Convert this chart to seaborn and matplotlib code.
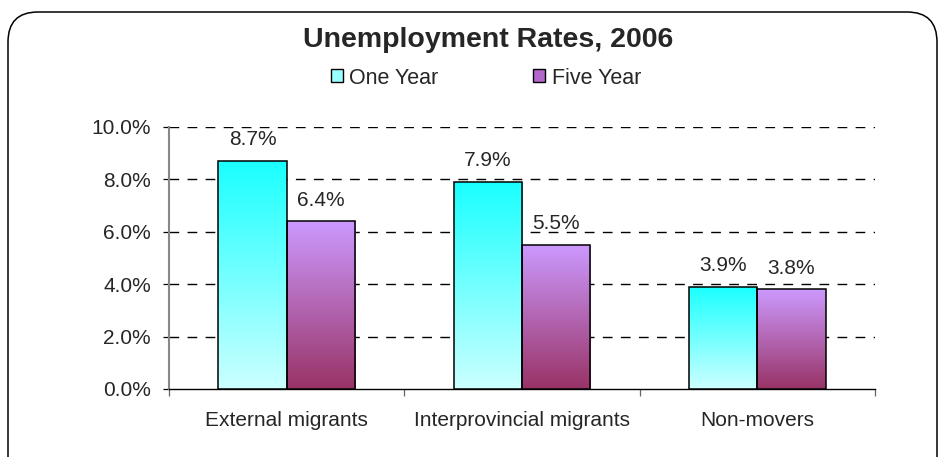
import numpy as np
import pandas as pd
import matplotlib
matplotlib.use("Agg")
import matplotlib.pyplot as plt
import seaborn as sns
from matplotlib.patches import FancyBboxPatch, Patch
from matplotlib.colors import LinearSegmentedColormap
from matplotlib.ticker import FuncFormatter

categories = ["External migrants", "Interprovincial migrants", "Non-movers"]
series = ["One Year", "Five Year"]
one_year = [8.7, 7.9, 3.9]
five_year = [6.4, 5.5, 3.8]

df = pd.DataFrame({
    "category": categories * 2,
    "series": [series[0]] * 3 + [series[1]] * 3,
    "value": one_year + five_year,
})

sns.set_style("white")
plt.rcParams["font.family"] = ["Liberation Sans", "DejaVu Sans"]

W, H = 942, 457
fig = plt.figure(figsize=(W / 100, H / 100), dpi=100)
ax = fig.add_axes([169 / W, 1 - 389 / H, (875 - 169) / W, (389 - 127) / H])

base_colors = {"One Year": "#1affff", "Five Year": "#cc99ff"}
sns.barplot(data=df, x="category", y="value", hue="series", order=categories,
            hue_order=series, palette=base_colors, width=0.58, ax=ax,
            edgecolor="black", linewidth=1.1, legend=False, zorder=3)

grads = {
    "One Year": LinearSegmentedColormap.from_list("c", ["#ccffff", "#1affff"]),
    "Five Year": LinearSegmentedColormap.from_list("p", ["#993366", "#cc99ff"]),
}
grad = np.linspace(0, 1, 256).reshape(-1, 1)
patches = list(ax.patches)
for i, p in enumerate(patches):
    s = series[i // 3]
    x0, y0 = p.get_x(), p.get_y()
    w, h = p.get_width(), p.get_height()
    im = ax.imshow(grad, cmap=grads[s], extent=[x0, x0 + w, y0, y0 + h],
                   origin="lower", aspect="auto", zorder=3.5)
    im.set_clip_path(p)
    p.set_facecolor("none")
    p.set_zorder(4)
    ax.text(x0 + w / 2, y0 + h + 0.6, f"{h:.1f}%", ha="center", va="baseline",
            fontsize=15, zorder=5)

ax.set_xlim(-0.5, 2.5)
ax.set_ylim(0, 10)
ax.set_yticks([0, 2, 4, 6, 8, 10])
ax.yaxis.set_major_formatter(FuncFormatter(lambda v, _: f"{v:.1f}%"))
ax.set_xlabel("")
ax.set_ylabel("")
for yv in [2, 4, 6, 8, 10]:
    ax.axhline(yv, color="black", lw=1.0, ls=(0, (7, 6)), zorder=1)

ax.set_xticks([0, 1, 2])
ax.set_xticklabels(categories)
ax.set_xticks([-0.5, 0.5, 1.5, 2.5], minor=True)
ax.tick_params(axis="x", which="major", length=0, pad=16, labelsize=15)
ax.tick_params(axis="x", which="minor", length=5, width=0.9, color="#666666",
               direction="out", bottom=True)
ax.tick_params(axis="y", length=4.5, width=0.9, color="black", direction="out",
               labelsize=15, pad=8.5, left=True)

for side in ["top", "right"]:
    ax.spines[side].set_visible(False)
ax.spines["left"].set_color("#888888")
ax.spines["left"].set_linewidth(1.5)
ax.spines["bottom"].set_color("black")
ax.spines["bottom"].set_linewidth(1.0)

fig.text(488 / W, 1 - 47 / H, "Unemployment Rates, 2006", ha="center", va="baseline",
         fontsize=20.5, fontweight="bold")

handles = [Patch(facecolor="#99ffff", edgecolor="black", linewidth=1.0),
           Patch(facecolor="#b366cc", edgecolor="black", linewidth=1.0)]
fig.legend(handles, series, loc="center", bbox_to_anchor=(486 / W, 1 - 78 / H), ncol=2,
           frameon=False, fontsize=15.5, handlelength=0.55, handleheight=0.55,
           columnspacing=4.4, handletextpad=0.3, borderpad=0, borderaxespad=0)

frame = FancyBboxPatch((8 / W, -0.2), (937 - 8) / W, 0.2 + 1 - 12 / H,
                       boxstyle="round,pad=0,rounding_size=%f" % (30 / W),
                       transform=fig.transFigure, facecolor="none", edgecolor="black",
                       linewidth=1.1, mutation_aspect=W / H)
fig.patches.append(frame)

fig.savefig("out.png", dpi=100)
